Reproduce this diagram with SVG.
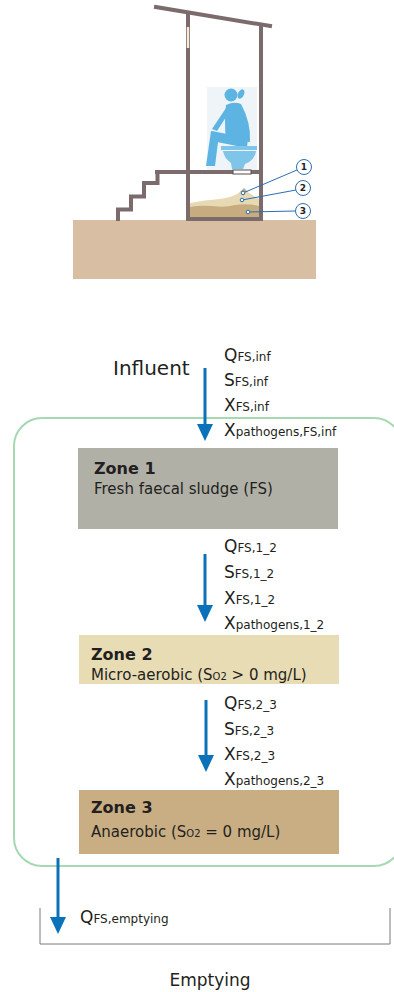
<svg xmlns="http://www.w3.org/2000/svg" width="394" height="992" viewBox="0 0 394 992">
  <defs>
    <marker id="arrowhead" viewBox="0 0 17 16" refX="0" refY="8" markerWidth="17" markerHeight="16" markerUnits="userSpaceOnUse" orient="auto">
      <path d="M0,0 L17,8 L0,16 Z" fill="#0b72b9"/>
    </marker>
    <style>
      text { font-family: "DejaVu Sans", "Liberation Sans", sans-serif; fill: #231f20; }
      .big { font-size: 17px; }
      .sub { font-size: 12px; }
      .title { font-size: 16px; font-weight: bold; }
      .desc { font-size: 15px; }
      .desc-sub { font-size: 10px; }
      .flow { stroke: #0b72b9; stroke-width: 3; fill: none; }
      .wall { stroke: #7b6b6c; stroke-width: 4; fill: none; stroke-linecap: square; }
      .callout { stroke: #2a6fb0; stroke-width: 1; fill: #ffffff; }
      .callout-num { font-size: 9px; font-weight: bold; fill: #222222; text-anchor: middle; }
    </style>
  </defs>

  <!-- Latrine cross-section -->
  <g id="latrine">
    <rect x="73" y="220" width="243" height="59" fill="#d8bfa3"/>
    <!-- user on the pedestal -->
    <rect x="207" y="87" width="50" height="83" fill="#eef4f8"/>
    <g fill="#5db4e2">
      <circle cx="231" cy="95" r="6.5"/>
      <ellipse cx="241" cy="94" rx="3" ry="5" transform="rotate(25 241 94)"/>
      <path d="M226,105 Q234,101 241,104 Q251,122 250,142 L226,140 Q224,122 226,105 Z"/>
      <path d="M226,108 L230,111 L217,131 L212,129 Z"/>
      <path d="M248,138 L247,148 L217,142 L212,131 L222,133 Z"/>
      <path d="M211,131 L219,134 L215,166 L206,166 Z"/>
    </g>
    <g fill="#7fc5ea">
      <rect x="221" y="146" width="36" height="4"/>
      <path d="M223,151 L256,151 Q255,160 245,164 L243,169 L232,169 L231,163 Q224,158 223,151 Z"/>
    </g>
    <!-- pit contents -->
    <path d="M190,203 Q205,200 220,199 Q235,197 241,191 L245,190 Q250,194 259,199 L259,217 L190,217 Z" fill="#e7d9b3"/>
    <path d="M240,192 L244,188 L248,192 Z" fill="#b9a68b"/>
    <path d="M190,207 Q200,205 212,206 Q225,208 235,205 Q248,203 259,206 L259,217 L190,217 Z" fill="#c7ac80"/>
    <!-- structure -->
    <line class="wall" x1="156" y1="7" x2="270" y2="26"/>
    <line class="wall" x1="188" y1="13" x2="188" y2="219"/>
    <line class="wall" x1="261" y1="25" x2="261" y2="219"/>
    <line class="wall" x1="157" y1="172" x2="261" y2="172"/>
    <line class="wall" x1="188" y1="219" x2="261" y2="219"/>
    <polyline class="wall" points="157.5,172 157.5,183 144,183 144,196.5 131,196.5 131,209.5 118,209.5 118,219"/>
    <rect x="186.8" y="27" width="2.4" height="21" fill="#f4ecd8"/>
    <rect x="233" y="170" width="18" height="4" fill="#ffffff" stroke="#5a4a4a" stroke-width="1"/>
  </g>

  <!-- Numbered layer callouts -->
  <g id="callouts">
    <line x1="243" y1="193" x2="297" y2="170" stroke="#2a6fb0" stroke-width="1"/>
    <line x1="242" y1="200" x2="296" y2="190" stroke="#2a6fb0" stroke-width="1"/>
    <line x1="248" y1="212" x2="295.5" y2="211" stroke="#2a6fb0" stroke-width="1"/>
    <circle class="callout" cx="243" cy="193" r="1.8"/>
    <circle class="callout" cx="242" cy="200" r="1.8"/>
    <circle class="callout" cx="248" cy="212" r="1.8"/>
    <circle class="callout" cx="304" cy="167" r="7.5"/>
    <circle class="callout" cx="303" cy="188" r="7.5"/>
    <circle class="callout" cx="303" cy="211" r="7.5"/>
    <text class="callout-num" x="304" y="170.3">1</text>
    <text class="callout-num" x="303" y="191.3">2</text>
    <text class="callout-num" x="303" y="214.3">3</text>
  </g>

  <!-- Pit boundary -->
  <g id="pit">
    <rect x="14" y="418" width="388" height="448" rx="28" ry="28" fill="none" stroke="#a6d9b3" stroke-width="2"/>
  </g>

  <g id="zone1">
    <rect x="78" y="448" width="260" height="81" fill="#b1b0a7"/>
    <text class="title" x="94" y="474">Zone 1</text>
    <text class="desc" x="94" y="494">Fresh faecal sludge (FS)</text>
  </g>

  <g id="zone2">
    <rect x="79" y="635" width="260" height="49" fill="#e8dcb5"/>
    <text class="title" x="91" y="660">Zone 2</text>
    <text class="desc" x="91" y="680">Micro-aerobic (S<tspan class="desc-sub">O2</tspan> &gt; 0 mg/L)</text>
  </g>

  <g id="zone3">
    <rect x="79" y="790" width="260" height="64" fill="#c9ae84"/>
    <text class="title" x="91" y="813">Zone 3</text>
    <text class="desc" x="91" y="837">Anaerobic (S<tspan class="desc-sub">O2</tspan> = 0 mg/L)</text>
  </g>

  <g id="influent">
    <text x="113" y="375" style="font-size:20px">Influent</text>
  </g>

  <g id="emptying">
    <path d="M40,908 L40,944 L390,944 L390,908" fill="none" stroke="#7a7a7a" stroke-width="1"/>
    <text x="210" y="986" style="font-size:17px" text-anchor="middle">Emptying</text>
  </g>

  <!-- Flows between zones -->
  <g id="connectors">
    <line class="flow" x1="205" y1="368" x2="205" y2="424" marker-end="url(#arrowhead)"/>
    <line class="flow" x1="205" y1="554" x2="205" y2="605" marker-end="url(#arrowhead)"/>
    <line class="flow" x1="206" y1="700" x2="206" y2="755" marker-end="url(#arrowhead)"/>
    <line class="flow" x1="58" y1="858" x2="58" y2="917" marker-end="url(#arrowhead)"/>
  </g>

  <!-- Flow variables -->
  <g id="flow-labels">
    <text class="big" x="224" y="361">Q<tspan class="sub">FS,inf</tspan></text>
    <text class="big" x="224" y="386">S<tspan class="sub">FS,inf</tspan></text>
    <text class="big" x="224" y="411">X<tspan class="sub">FS,inf</tspan></text>
    <text class="big" x="224" y="436">X<tspan class="sub">pathogens,FS,inf</tspan></text>

    <text class="big" x="224" y="552">Q<tspan class="sub">FS,1_2</tspan></text>
    <text class="big" x="224" y="578">S<tspan class="sub">FS,1_2</tspan></text>
    <text class="big" x="224" y="604">X<tspan class="sub">FS,1_2</tspan></text>
    <text class="big" x="224" y="629">X<tspan class="sub">pathogens,1_2</tspan></text>

    <text class="big" x="224" y="709">Q<tspan class="sub">FS,2_3</tspan></text>
    <text class="big" x="224" y="735">S<tspan class="sub">FS,2_3</tspan></text>
    <text class="big" x="224" y="760">X<tspan class="sub">FS,2_3</tspan></text>
    <text class="big" x="224" y="785">X<tspan class="sub">pathogens,2_3</tspan></text>

    <text class="big" x="80" y="923">Q<tspan class="sub">FS,emptying</tspan></text>
  </g>
</svg>
